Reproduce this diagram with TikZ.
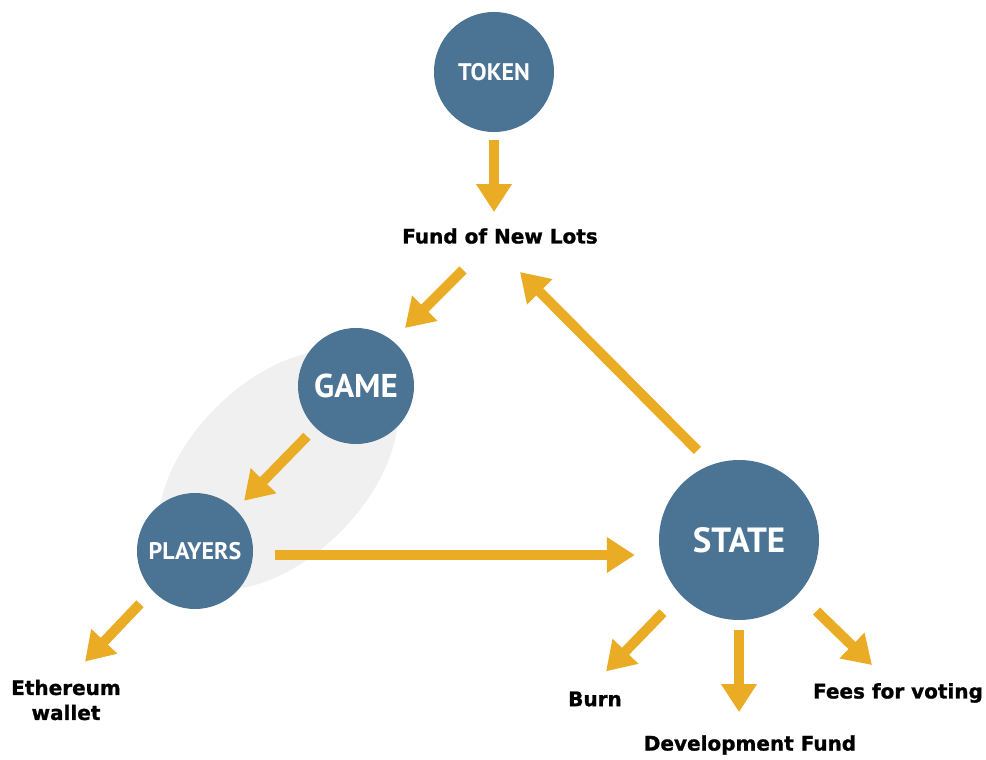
\documentclass[tikz,border=0pt]{standalone}
\usepackage{fontspec}
\setmainfont{DejaVu Sans}[BoldFeatures={FakeBold=1.2}]
\newfontfamily\circfont{PT Sans}
\usetikzlibrary{arrows.meta}
\definecolor{stblue}{HTML}{4A7394}
\definecolor{flowyel}{HTML}{E9AC24}

\begin{document}
\begin{tikzpicture}[x=1pt,y=-1pt,
  stage/.style={circle,fill=stblue,text=white,inner sep=0pt,font=\circfont\bfseries},
  lbl/.style={font=\bfseries\fontsize{20}{25}\selectfont,align=center,inner sep=0pt},
  flow/.style={draw=flowyel,line width=10pt,-{Triangle[width=34pt,length=28pt]}}]
      \useasboundingbox (0,0) rectangle (986,760);
      \fill[black!6] (278,470) ellipse [x radius=145,y radius=88,rotate=45];
      \node[stage,minimum size=120pt,font=\circfont\bfseries\fontsize{24}{28}\selectfont] (token) at (494,72) {TOKEN};
      \node[stage,minimum size=116pt,font=\circfont\bfseries\fontsize{33}{36}\selectfont] (game) at (356,386) {GAME};
      \node[stage,minimum size=116pt,font=\circfont\bfseries\fontsize{24}{28}\selectfont] (players) at (195,551) {PLAYERS};
      \node[stage,minimum size=160pt,font=\circfont\bfseries\fontsize{35}{38}\selectfont] (state) at (739,540) {STATE};
      \node[lbl] (fund) at (500,236) {Fund of New Lots};
      \node[lbl] (eth) at (66,700) {Ethereum\\wallet};
      \node[lbl] (burn) at (595,699) {Burn};
      \node[lbl] (dev) at (750,745) {Development Fund};
      \node[lbl] (fees) at (898,693) {Fees for voting};
      % free ends of the arrows
      \coordinate (fundin) at ([shift={(20,36)}]fund.center);
      \coordinate (fundout) at ([shift={(-37,34)}]fund.center);
      \coordinate (gamein) at ([shift={(49,-58)}]game.center);
      \draw[flow,shorten <=8pt,shorten >=16pt] (token.south) -- (token.south |- fund.north);
      \draw[flow] (fundout) -- (gamein);
      \draw[flow,shorten <=12pt,shorten >=12pt] (game) -- (players);
      \draw[flow,shorten <=22pt,shorten >=24pt] ([yshift=-4pt]players.east) -- ([yshift=-15pt]state.west);
      \draw[flow,shorten <=20pt] (state.110) -- (fundin);
      \draw[flow,shorten <=18pt] (players.-137) -- ([shift={(19,-18)}]eth.north);
      \draw[flow,shorten <=25pt] (state.-137) -- ([shift={(11,-20)}]burn.north);
      \draw[flow,shorten <=10pt,shorten >=23pt] (state.south) -- (state.south |- dev.north);
      \draw[flow,shorten <=25pt] (state.-42) -- ([shift={(-26,-18)}]fees.north);
\end{tikzpicture}
\end{document}
